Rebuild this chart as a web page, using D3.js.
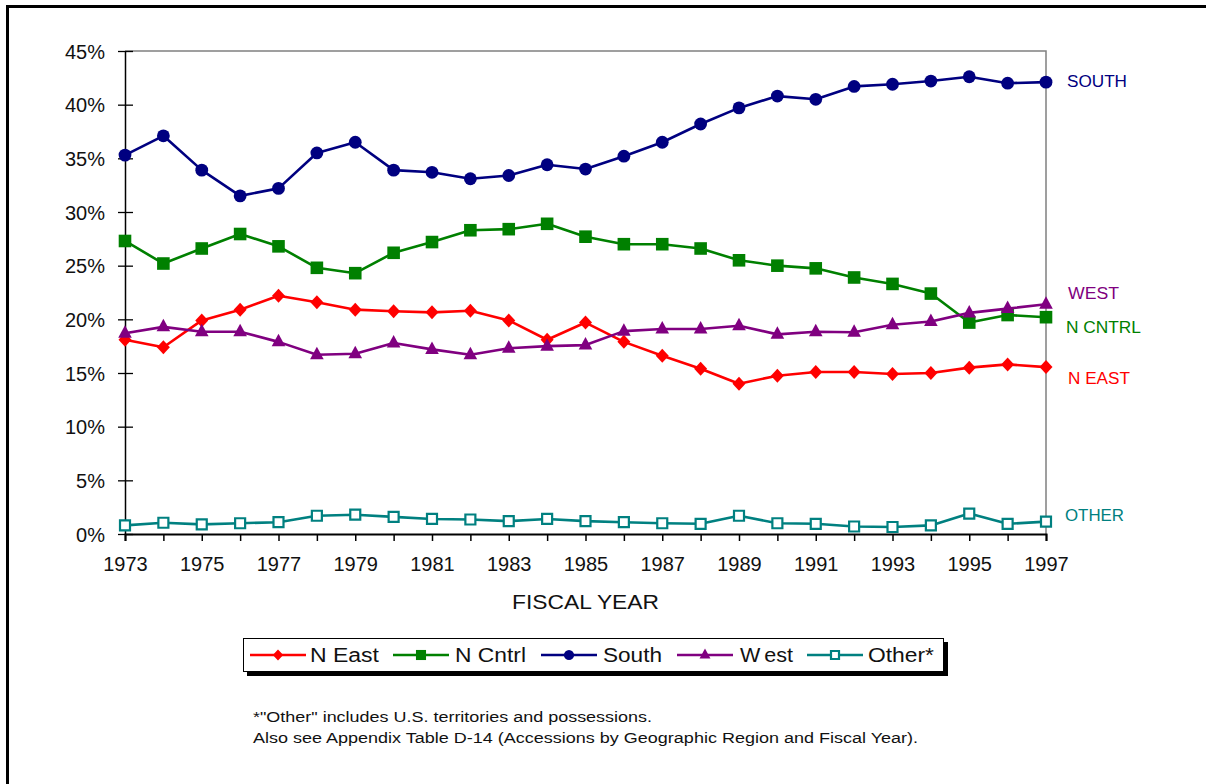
<!DOCTYPE html>
<html><head><meta charset="utf-8">
<script src="https://cdn.jsdelivr.net/npm/d3@7"></script>
<style>body{margin:0;background:#fff}svg{display:block}text{font-family:"Liberation Sans",Arial,sans-serif}</style>
</head><body>
<script>
const years = d3.range(1973, 1998);
const nEast  = [18.1,17.4,19.9,20.9,22.2,21.6,20.9,20.75,20.65,20.8,19.9,18.1,19.7,17.9,16.6,15.4,14.0,14.75,15.1,15.1,14.9,15.0,15.5,15.8,15.55];
const nCntrl = [27.3,25.2,26.6,27.95,26.8,24.8,24.3,26.2,27.2,28.3,28.4,28.9,27.7,27.0,27.0,26.6,25.5,25.0,24.75,23.9,23.3,22.4,19.7,20.4,20.2];
const south  = [35.3,37.1,33.9,31.5,32.2,35.5,36.5,33.9,33.7,33.1,33.4,34.4,34.0,35.2,36.5,38.2,39.7,40.8,40.5,41.7,41.9,42.2,42.6,42.0,42.1];
const west   = [18.7,19.3,18.85,18.85,17.9,16.7,16.8,17.8,17.2,16.7,17.3,17.5,17.6,18.9,19.1,19.1,19.4,18.6,18.85,18.8,19.5,19.8,20.6,21.0,21.4];
const other  = [0.8,1.05,0.9,1.0,1.1,1.7,1.8,1.6,1.4,1.35,1.2,1.4,1.2,1.1,1.0,0.95,1.7,1.0,0.95,0.7,0.65,0.8,1.9,0.95,1.15];
const yTicks = [0,5,10,15,20,25,30,35,40,45];
const xLabelYears = [1973,1975,1977,1979,1981,1983,1985,1987,1989,1991,1993,1995,1997];
const seriesNames = ["N East","N Cntrl","South","West","Other*"];
const endLabels = ["N EAST","N CNTRL","SOUTH","WEST","OTHER"];
const xTitle = "FISCAL YEAR";
const footnotes = ["*\"Other\" includes U.S. territories and possessions.",
  "Also see Appendix Table D-14 (Accessions by Geographic Region and Fiscal Year)."];

const series = [
  {name: seriesNames[0], label: endLabels[0], values: nEast,  color:"#ff0000", shape:"diamond", lx:1068, ly:384, lw:62},
  {name: seriesNames[1], label: endLabels[1], values: nCntrl, color:"#008000", shape:"square",  lx:1066, ly:332.5, lw:75},
  {name: seriesNames[2], label: endLabels[2], values: south,  color:"#000080", shape:"circle",  lx:1067, ly:86.5, lw:60},
  {name: seriesNames[3], label: endLabels[3], values: west,   color:"#800080", shape:"triangle",lx:1068, ly:299, lw:51},
  {name: seriesNames[4], label: endLabels[4], values: other,  color:"#008080", shape:"hollow",  lx:1065, ly:520.5, lw:59}
];

const W = 1206, H = 784;
const svg = d3.select("body").append("svg").attr("width", W).attr("height", H);

// outer frame (extends past viewport)
svg.append("rect").attr("x",7.5).attr("y",6.5).attr("width",1400).attr("height",1000)
  .attr("fill","none").attr("stroke","#000").attr("stroke-width",3);

const x = d3.scaleLinear().domain([1973,1997]).range([125,1046]);
const y = d3.scaleLinear().domain([0,45]).range([534,51]);

// plot frame top/right (gray)
svg.append("path").attr("d",`M${x(1973)},${y(45)}H${x(1997)}V${y(0)}`)
  .attr("fill","none").attr("stroke","#808080").attr("stroke-width",1.5);

// y axis
const yAxis = d3.axisLeft(y).tickValues(yTicks).tickSize(0).tickFormat(d=>d+"%");
const gy = svg.append("g").attr("transform",`translate(${x(1973)},0)`).call(yAxis);
gy.select(".domain").attr("stroke","#000").attr("stroke-width",1.5);
gy.selectAll(".tick text").attr("x",-20).attr("dy","0.36em").attr("font-size",20)
  .attr("fill","#111").attr("font-family","'Liberation Sans',Arial,sans-serif");
gy.selectAll(".tick").append("line").attr("x1",-7).attr("x2",8).attr("stroke","#000").attr("stroke-width",1.3);

// x axis
const xAxis = d3.axisBottom(x).tickValues(years).tickSize(7).tickFormat(d=> xLabelYears.includes(d) ? String(d) : "");
const gx = svg.append("g").attr("transform",`translate(0,${y(0)})`).call(xAxis);
gx.select(".domain").attr("stroke","#000").attr("stroke-width",2);
gx.selectAll(".tick line").attr("stroke","#000").attr("stroke-width",1.5);
gx.selectAll(".tick text").attr("y",23).attr("dy","0.71em").attr("font-size",20)
  .attr("fill","#111").attr("font-family","'Liberation Sans',Arial,sans-serif");

svg.append("text").attr("x",512).attr("y",608.5)
  .attr("font-size",20).attr("fill","#111")
  .attr("textLength",147).attr("lengthAdjust","spacingAndGlyphs").text(xTitle);

function markerPath(shape){
  switch(shape){
    case "diamond": return "M0,-7L6.5,0L0,7L-6.5,0Z";
    case "square": return "M-6.3,-6.3H6.3V6.3H-6.3Z";
    case "circle": return d3.symbol(d3.symbolCircle, Math.PI*6.4*6.4)();
    case "triangle": return "M0,-8L6.8,4.5H-6.8Z";
    case "hollow": return "M-5,-5H5V5H-5Z";
  }
}
function drawMarker(g, shape, color, scale=1){
  const p = g.append("path").attr("d", markerPath(shape)).attr("transform",`scale(${scale})`);
  if(shape==="hollow") p.attr("fill","#fff").attr("stroke",color).attr("stroke-width",2.2/scale);
  else p.attr("fill",color);
}

const line = d3.line().x((d,i)=>x(years[i])).y(d=>y(d));
series.forEach(s=>{
  const g = svg.append("g");
  g.append("path").attr("d", line(s.values)).attr("fill","none").attr("stroke",s.color)
    .attr("stroke-width",2.6).attr("stroke-linejoin","round");
  s.values.forEach((v,i)=>{
    const m = g.append("g").attr("transform",`translate(${x(years[i])},${y(v)})`);
    drawMarker(m, s.shape, s.color);
  });
  svg.append("text").attr("x",s.lx).attr("y",s.ly).attr("font-size",16).attr("fill",s.color)
    .attr("textLength",s.lw).attr("lengthAdjust","spacingAndGlyphs").text(s.label);
});

// legend
const lg = svg.append("g");
lg.append("rect").attr("x",247).attr("y",642).attr("width",701).attr("height",34).attr("fill","#000");
lg.append("rect").attr("x",243.5).attr("y",638.5).attr("width",700).attr("height",33)
  .attr("fill","#fff").attr("stroke","#000").attr("stroke-width",1);
const legPos = [
  {lx:250, tx:310, tw:69},
  {lx:393, tx:455, tw:71},
  {lx:541, tx:603, tw:59},
  {lx:677, tx:740, tw:53},
  {lx:807, tx:868, tw:66}
];
series.forEach((s,i)=>{
  const p = legPos[i];
  lg.append("line").attr("x1",p.lx).attr("x2",p.lx+56).attr("y1",655).attr("y2",655)
    .attr("stroke",s.color).attr("stroke-width",2.4);
  const m = lg.append("g").attr("transform",`translate(${p.lx+28},655)`);
  drawMarker(m, s.shape, s.color, 0.8);
  const t = lg.append("text").attr("x",p.tx).attr("y",662).attr("font-size",20).attr("fill","#111")
    .attr("textLength",p.tw).attr("lengthAdjust","spacingAndGlyphs");
  if(s.name==="West"){ t.append("tspan").text("W"); t.append("tspan").attr("dx",4).text("est"); }
  else t.text(s.name);
});

// footnotes
svg.append("text").attr("x",253).attr("y",722).attr("font-size",14).attr("fill","#111")
  .attr("textLength",399).attr("lengthAdjust","spacingAndGlyphs").text(footnotes[0]);
svg.append("text").attr("x",253).attr("y",743).attr("font-size",14).attr("fill","#111")
  .attr("textLength",665).attr("lengthAdjust","spacingAndGlyphs").text(footnotes[1]);
</script>
</body></html>
